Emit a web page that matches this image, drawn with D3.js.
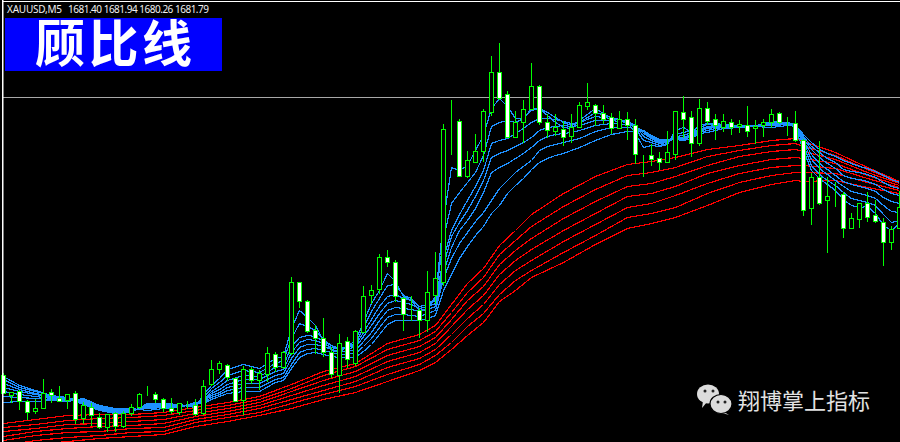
<!DOCTYPE html>
<html><head><meta charset="utf-8">
<script src="https://cdn.jsdelivr.net/npm/d3@7"></script>
<style>html,body{margin:0;padding:0;background:#000;overflow:hidden}svg{display:block}</style>
</head><body><svg id="c" width="900" height="442"></svg>
<script>
// Price values in chart points (no price axis is visible on the chart)
const opens=[125,105,109,99,89,92,108,102,100,107,82,93,83,73,87,74,87,93,106,106,101,92,88,97,95,87,116,131,135,122,100,131,120,126,146,133,147,218,199,170,162,148,125,159,137,168,205,211,243,238,202,191,190,180,205,218,378,379,324,338,349,388,428,406,363,378,391,414,378,369,371,364,373,394,395,387,383,372,381,375,344,345,342,338,346,388,383,357,392,381,373,378,374,375,372,375,378,387,378,377,360,292,323,300,306,306,272,281,297,285,278,258,272];
const highs=[127,108,110,100,101,121,111,114,106,109,98,97,87,86,88,89,96,107,114,108,102,102,97,99,101,120,140,139,136,122,134,133,130,153,148,149,223,218,200,175,182,153,166,163,170,214,215,246,250,240,203,204,192,229,248,376,400,381,349,366,391,444,457,409,389,400,437,415,386,386,379,386,398,417,396,395,387,389,388,381,345,356,348,369,389,404,389,401,398,386,386,381,380,394,380,381,391,388,383,389,361,327,359,323,318,308,287,297,308,300,282,274,309];
const lows=[107,98,91,81,87,92,98,99,92,77,77,75,72,69,69,73,85,92,105,98,89,87,86,92,85,86,115,127,120,99,86,117,111,119,129,132,146,193,168,147,144,123,108,133,135,168,197,207,234,199,170,180,163,169,197,215,346,324,323,338,339,385,401,363,363,358,391,376,363,365,355,358,373,391,375,377,367,372,361,337,324,335,331,338,341,363,344,355,376,361,369,366,368,364,357,364,373,377,365,359,285,276,296,248,294,263,272,273,279,278,235,251,272];
const closes=[107,108,99,88,92,107,105,99,106,81,95,85,73,86,74,87,93,106,106,101,92,89,97,97,86,114,131,137,123,99,131,120,127,147,133,148,218,199,169,162,148,126,157,141,169,204,210,243,238,204,186,191,180,208,222,371,378,324,340,349,389,428,402,363,378,391,414,378,370,373,363,373,395,398,387,381,372,381,375,346,344,341,338,348,389,381,357,392,379,375,379,373,376,369,374,378,386,378,378,360,290,323,297,304,306,272,282,297,283,279,258,271,293];

const blueBars=[0,2,4,6,8,10,12,14,16,18,20,22,24,25,26,27,28,30,32,34,35,36,37,38,39,40,41,42,44,45,46,47,48,49,50,51,52,53,54,55,56,57,58,59,60,61,62,63,64,65,66,67,68,69,70,71,72,74,76,78,79,80,81,82,83,84,85,86,87,88,89,90,92,94,96,98,99,100,101,102,103,104,105,106,107,108,109,110,111,112];
const blueRows=[[124,121,117,113,109,104,98],[115,113,111,109,106,103,99],[110,109,107,106,104,102,99],[105,105,104,103,102,101,100],[102,103,103,102,101,100,99],[96,97,98,99,100,101,102],[90,91,92,93,94,95,95],[87,88,89,89,90,91,92],[88,89,89,90,90,91,92],[97,96,95,94,93,92,90],[97,96,95,95,94,93,92],[96,95,95,95,94,94,93],[93,94,95,96,97,97,98],[106,103,101,100,99,98,97],[115,112,109,107,105,103,101],[122,118,114,111,108,106,104],[131,125,120,116,113,110,107],[136,130,125,121,117,113,109],[132,128,124,121,117,113,109],[142,137,133,129,125,121,118],[144,140,135,131,127,123,120],[172,162,154,148,142,136,132],[190,177,163,158,153,148,143],[183,174,165,161,156,151,147],[175,170,164,160,156,152,148],[160,161,159,157,154,150,146],[150,155,155,153,151,148,144],[148,151,152,151,149,146,143],[160,157,155,153,150,147,143],[178,173,168,164,159,154,149],[197,189,181,175,168,162,156],[210,202,194,187,180,173,166],[227,215,204,197,190,183,176],[219,216,206,200,193,186,180],[204,205,202,198,192,186,180],[200,202,200,196,191,185,180],[190,194,194,192,189,184,180],[192,196,196,194,191,187,182],[204,202,200,197,194,190,185],[280,262,242,235,228,222,210],[333,297,270,264,253,242,226],[330,308,286,278,270,257,242],[335,318,300,290,280,268,254],[350,328,314,304,292,279,265],[365,345,330,320,308,288,274],[392,374,357,343,328,300,287],[402,378,360,347,333,312,295],[394,380,362,350,337,320,307],[382,378,367,354,342,328,315],[382,382,372,358,347,334,322],[392,390,378,363,353,340,331],[392,392,382,370,360,350,338],[385,388,382,373,364,354,342],[378,383,381,374,366,356,345],[373,378,379,375,367,358,347],[372,375,377,374,368,360,350],[380,378,378,375,370,362,353],[392,388,384,380,375,369,360],[382,383,382,380,377,373,366],[378,379,379,378,376,373,369],[367,372,375,375,374,372,369],[353,360,364,367,369,370,370],[355,358,360,362,363,364,365],[354,355,357,358,359,360,361],[356,357,358,359,359,360,361],[370,366,364,363,362,362,361],[373,368,365,363,362,361,360],[368,370,368,366,365,364,362],[375,373,371,370,369,368,367],[377,376,374,373,372,370,368],[377,376,375,374,373,372,370],[376,376,376,375,374,373,372],[375,375,375,375,375,374,373],[374,375,375,375,375,375,374],[379,378,377,377,376,375,373],[378,378,378,377,377,376,375],[372,375,376,376,376,376,375],[350,355,358,360,362,364,366],[330,335,341,346,351,354,358],[322,326,332,337,343,348,351],[316,320,326,331,337,342,347],[310,315,320,325,332,338,344],[301,308,314,319,325,331,340],[295,302,309,316,322,329,337],[293,300,307,314,321,328,334],[294,298,305,312,319,326,332],[287,295,302,309,316,323,329],[275,286,295,303,311,318,325],[270,278,289,299,307,314,321],[277,280,288,297,305,312,318]];
const redBars=[0,4,8,12,16,20,24,28,32,36,40,44,48,52,54,56,58,60,62,64,66,70,74,78,81,84,88,92,96,99,100,104,108,112];
const redRows=[[77,73,69,64,60,55,50],[81,76,72,69,65,60,56],[85,80,76,72,68,63,59],[86,82,77,74,69,65,62],[86,83,79,75,72,68,64],[88,85,81,77,73,69,66],[93,90,87,84,81,78,74],[98,95,92,89,86,83,79],[104,101,98,95,92,88,85],[116,112,109,105,101,97,92],[129,125,120,115,110,106,101],[137,134,129,124,119,114,108],[157,151,145,139,133,126,119],[166,160,154,148,142,136,130],[175,169,163,157,151,145,138],[196,188,181,174,166,158,151],[217,208,200,191,182,174,165],[232,223,214,205,196,187,178],[255,246,236,226,216,206,199],[270,260,250,240,230,220,210],[286,274,262,251,240,230,223],[307,294,282,270,259,248,238],[324,311,299,287,276,265,256],[336,325,314,304,293,283,272],[339,328,317,307,297,287,277],[343,333,324,314,305,293,283],[351,344,335,327,317,307,295],[355,350,344,335,327,318,308],[360,355,349,341,333,325,316],[362,357,351,343,335,328,320],[359,354,349,342,335,328,319],[348,345,341,337,332,327,320],[333,331,328,325,322,318,313],[319,318,317,315,313,310,307]];
const crosshairLevel=[403];
const headerSymbol="XAUUSD,M5", headerQuote=["1681.40","1681.94","1680.26","1681.79"];
const titleText="顾比线", watermark="翔博掌上指标";

const svg=d3.select("#c");
svg.append("rect").attr("width",900).attr("height",442).attr("fill","#000");
const x=d3.scaleLinear().domain([0,112]).range([3.5,899.5]);
const y=d3.scaleLinear().domain([500,58]).range([0,442]);
const px=v=>Math.round(y(v))+.5;

const line=d3.line().x(d=>x(d[0])).y(d=>y(d[1])+.5);
const ribbon=(bars,rows,color)=>{
  d3.transpose(rows).forEach(col=>{
    svg.append("path").attr("d",line(bars.map((b,k)=>[b,col[k]])))
      .attr("fill","none").attr("stroke",color).attr("stroke-width",1.2)
      .attr("shape-rendering","crispEdges");
  });
};
ribbon(redBars,redRows,"#ff0000");
ribbon(blueBars,blueRows,"#1e90ff");

// crosshair line
svg.selectAll("line.lvl").data(crosshairLevel).join("line").attr("class","lvl")
  .attr("x1",3).attr("x2",900).attr("y1",d=>px(d)).attr("y2",d=>px(d))
  .attr("stroke","#a8a8a8").attr("shape-rendering","crispEdges");

// candles
const g=svg.append("g").attr("shape-rendering","crispEdges");
const bars=d3.range(opens.length);
g.selectAll("line.w").data(bars).join("line").attr("class","w")
  .attr("x1",i=>x(i)).attr("x2",i=>x(i))
  .attr("y1",i=>Math.round(y(highs[i]))).attr("y2",i=>Math.round(y(lows[i]))+1)
  .attr("stroke","#00ff00");
g.selectAll("rect.b").data(bars).join("rect").attr("class","b")
  .attr("x",i=>x(i)-2).attr("width",4)
  .attr("y",i=>px(Math.max(opens[i],closes[i])))
  .attr("height",i=>Math.abs(px(opens[i])-px(closes[i])))
  .attr("fill",i=>closes[i]<opens[i]?"#fff":"#000")
  .attr("stroke","#00ff00");

// frame
svg.append("rect").attr("x",2).attr("y",0).attr("width",1.5).attr("height",442).attr("fill","#fff");
svg.append("rect").attr("x",2).attr("y",1).attr("width",898).attr("height",1).attr("fill","#fff");

// header
svg.append("text").attr("x",7).attr("y",13).attr("fill","#f0f0f0")
  .attr("font-family","'Noto Sans'").attr("font-size",10)
  .attr("textLength",55).attr("lengthAdjust","spacing").text(headerSymbol);
svg.append("text").attr("x",68).attr("y",13).attr("fill","#f0f0f0")
  .attr("font-family","'Noto Sans'").attr("font-size",10)
  .attr("textLength",141).attr("lengthAdjust","spacing").text(headerQuote.join(" "));
// banner
svg.append("rect").attr("x",5).attr("y",18).attr("width",217).attr("height",53).attr("fill","#0000ff");
svg.append("text").attr("x",35).attr("y",62).attr("fill","#fff")
  .attr("font-family","'Noto Sans CJK SC'").attr("font-weight",700).attr("font-size",50)
  .attr("letter-spacing",3.5).text(titleText);

// watermark
const wm=svg.append("g");
const c="#dcdcdc";
[[708,394,702,408,707,402],[721,404,729,415,724,412]].forEach((b,k)=>{
  wm.append("path").attr("d",`M${b[0]-5},${b[1]+7}L${b[2]},${b[3]}L${b[4]},${b[5]}Z`).attr("fill",c);
  wm.append("ellipse").attr("cx",b[0]).attr("cy",b[1]).attr("rx",11).attr("ry",9.5).attr("fill",c).attr("stroke",k?"#000":"none").attr("stroke-width",1.2);
});
[[705,391],[713,391],[718,402],[725,402]].forEach(e=>wm.append("circle").attr("cx",e[0]).attr("cy",e[1]).attr("r",1.5).attr("fill","#222"));
svg.append("text").attr("x",738).attr("y",409).attr("fill","#e2e2e2")
  .attr("font-family","'Noto Sans CJK SC'").attr("font-size",22).text(watermark);
</script></body></html>
